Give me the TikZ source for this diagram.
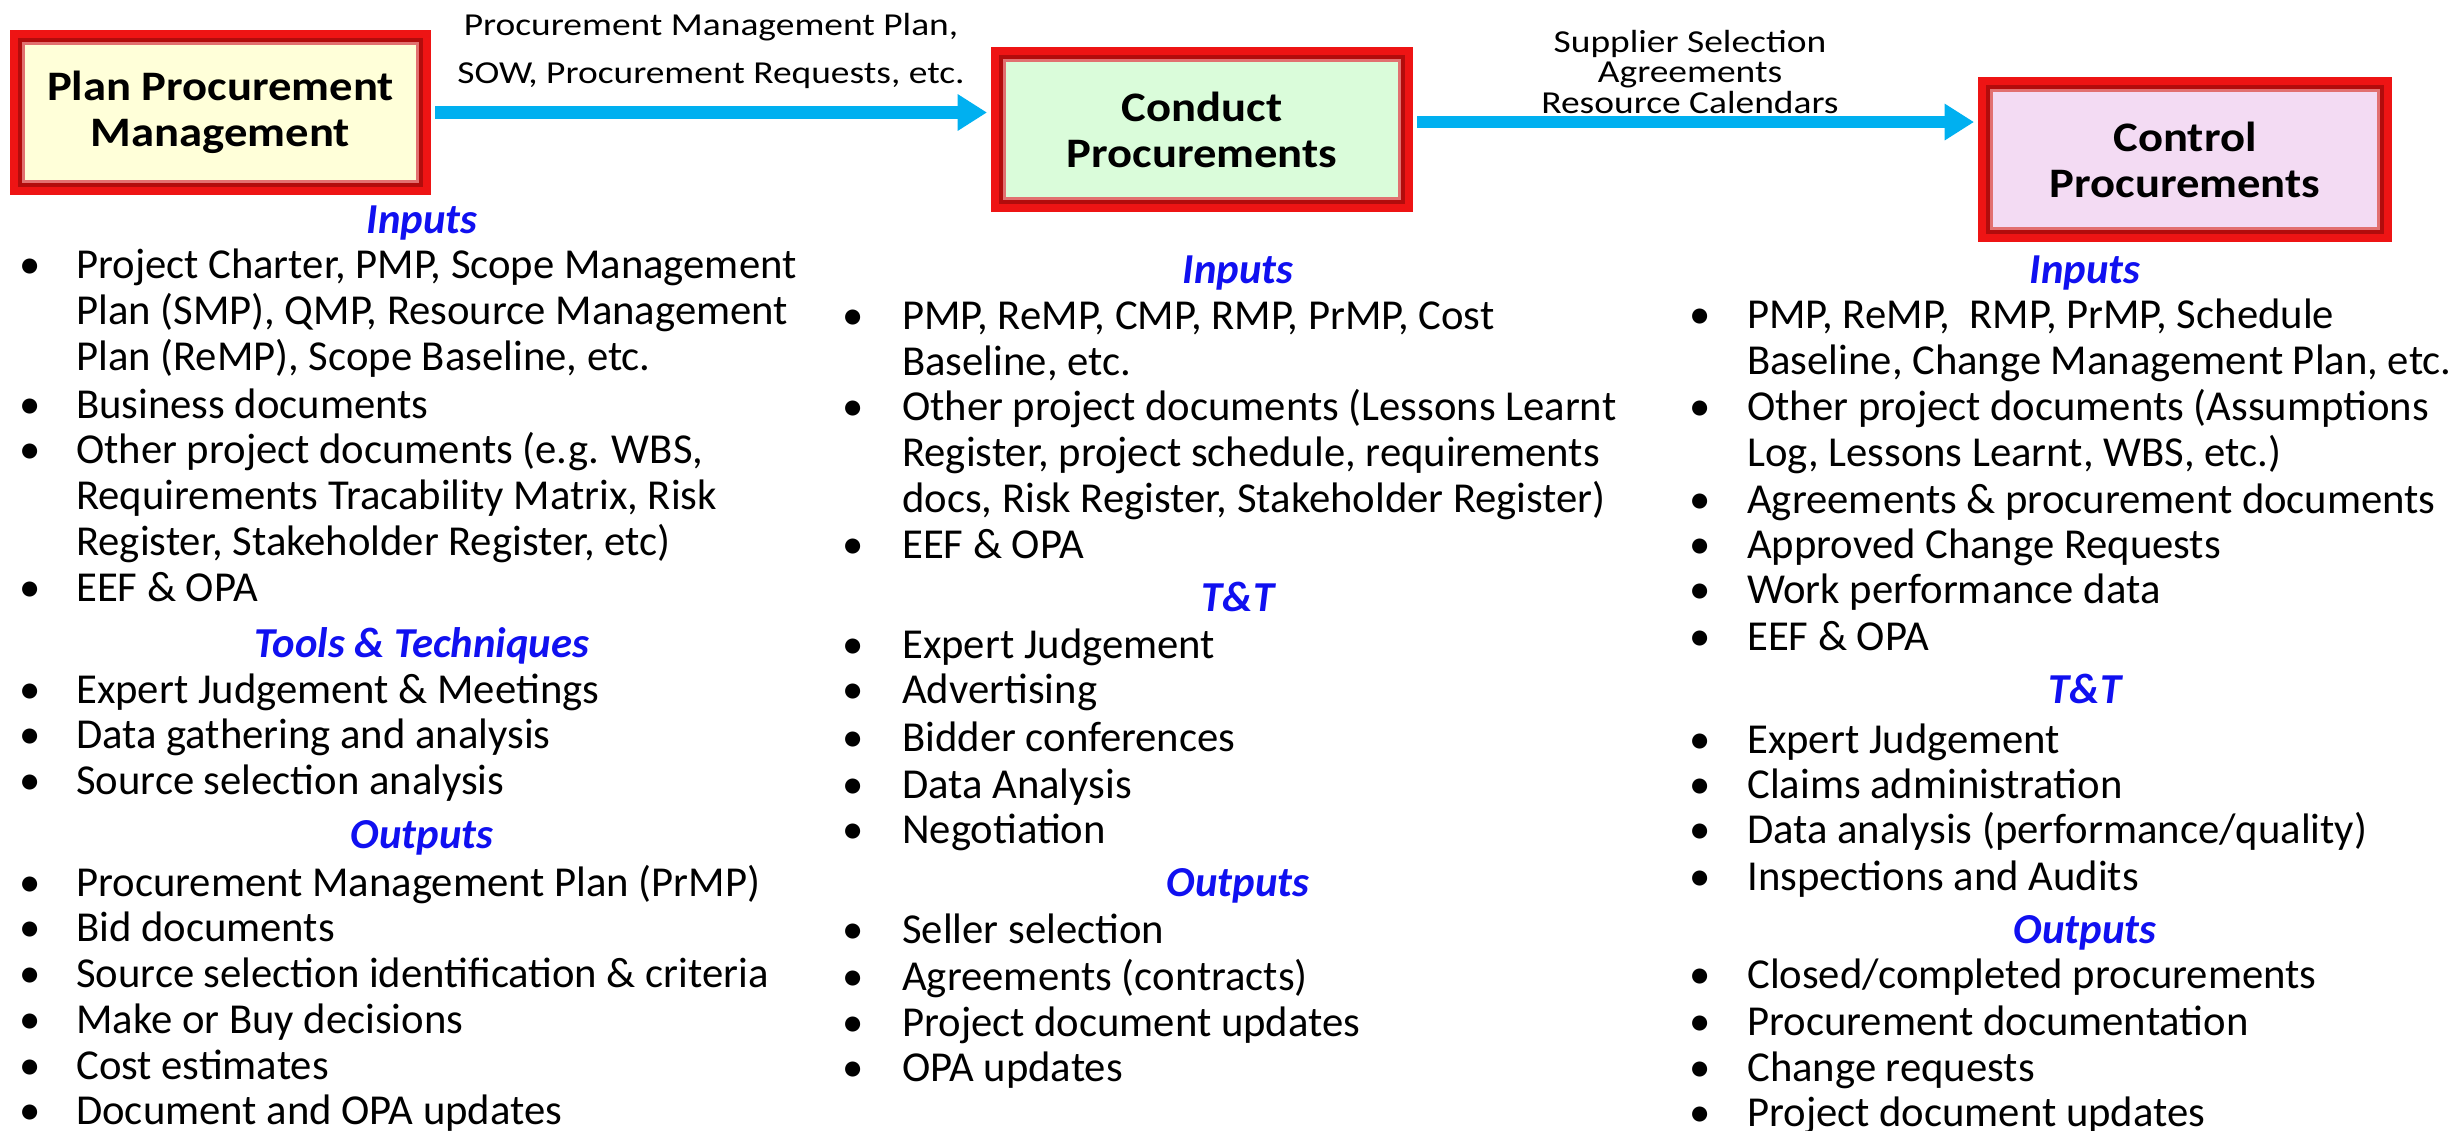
\documentclass[tikz,border=0pt]{standalone}
\usepackage{fontspec}
\setmainfont{Carlito}
\newfontfamily\labelfont[FakeStretch=1.17]{Carlito}
\newfontfamily\boxfont[FakeStretch=1.11]{Carlito}
\usepackage{tikz}
\usetikzlibrary{arrows.meta}

\definecolor{boxred}{RGB}{238,20,20}
\definecolor{boxdark}{RGB}{178,12,12}
\definecolor{boxband}{RGB}{226,112,112}
\definecolor{planfill}{RGB}{255,255,217}
\definecolor{condfill}{RGB}{218,252,218}
\definecolor{ctrlfill}{RGB}{243,219,243}
\definecolor{flowblue}{RGB}{0,176,240}
\definecolor{headblue}{RGB}{16,16,240}

\newcommand{\tightlines}{\lineskiplimit=-30pt\relax}

\begin{document}
\begin{tikzpicture}[x=0.75pt,y=0.75pt,yscale=-1,xscale=1,
  item/.style={anchor=north west, inner sep=0pt, align=left, font=\fontsize{32}{34.5}\selectfont, execute at begin node=\strut},
  dot/.style={anchor=north, inner sep=0pt, font=\fontsize{32}{34.5}\selectfont, execute at begin node=\strut},
  head/.style={anchor=base, inner sep=0pt, text=headblue, font=\fontsize{32}{34.5}\selectfont\bfseries\itshape},
  flowlabel/.style={anchor=north, inner sep=0pt, align=center},
  procbox/.style={draw=boxred, line width=6pt, minimum height=117.75pt, inner sep=0pt, align=center,
    font=\boxfont\bfseries\fontsize{31.5}{34.5}\selectfont,
    path picture={
      \draw[boxband, line width=16.5pt] (path picture bounding box.south west) rectangle (path picture bounding box.north east);
      \draw[boxdark, line width=12pt] (path picture bounding box.south west) rectangle (path picture bounding box.north east);
    }},
  flow/.style={draw=flowblue, line width=9pt, shorten <=3pt, shorten >=3pt, -{Triangle[width=26pt,length=22pt]}}
]
\useasboundingbox (0,0) rectangle (2463,1131);

%Process boxes
\node [procbox, fill=planfill, minimum width=309.75pt] (plan) at (220.5,112.5) {Plan Procurement\\Management};
\node [procbox, fill=condfill, minimum width=310.5pt] (conduct) at (1202,129.5) {Conduct\\Procurements};
\node [procbox, fill=ctrlfill, minimum width=304.5pt] (control) at (2185,159.5) {Control\\Procurements};

%Flow arrows
\draw [flow] (plan.east) -- (plan.east -| conduct.west);
\coordinate (cflow) at ([yshift=-5.6pt]conduct.east);
\draw [flow] (cflow) -- (cflow -| control.west);

% Text Node
\draw (711,1.4) node [flowlabel][font=\labelfont\fontsize{24}{36}\selectfont] (lab1) {\strut Procurement Management Plan,\\SOW, Procurement Requests, etc.};
% Text Node
\draw (1690,29.6) node [flowlabel][font=\labelfont\fontsize{24}{22.9}\selectfont\tightlines] (lab2) {Supplier Selection\\Agreements\\Resource Calendars};

%Plan Procurement Management column
\draw (422,233) node [head] (pin) {Inputs};
\draw (30,246) node [dot] (pb1) {\textbullet};
\draw (76,246) node [item] (pt1) {\strut Project Charter, PMP, Scope Management\\Plan (SMP), QMP, Resource Management\\Plan (ReMP), Scope Baseline, etc.};
\draw (30,386) node [dot] (pb2) {\textbullet};
\draw (76,386) node [item] (pt2) {Business documents};
\draw (30,431) node [dot] (pb3) {\textbullet};
\draw (76,431) node [item] (pt3) {\strut Other project documents (e.g. WBS,\\Requirements Tracability Matrix, Risk\\Register, Stakeholder Register, etc)};
\draw (30,569) node [dot] (pb4) {\textbullet};
\draw (76,569) node [item] (pt4) {EEF \& OPA};
\draw (422,657) node [head] (ptt) {Tools \& Techniques};
\draw (30,671) node [dot] (pb5) {\textbullet};
\draw (76,671) node [item] (pt5) {Expert Judgement \& Meetings};
\draw (30,716.5) node [dot] (pb6) {\textbullet};
\draw (76,716.5) node [item] (pt6) {Data gathering and analysis};
\draw (30,762) node [dot] (pb7) {\textbullet};
\draw (76,762) node [item] (pt7) {Source selection analysis};
\draw (422,848) node [head] (pout) {Outputs};
\draw (30,864) node [dot] (pb8) {\textbullet};
\draw (76,864) node [item] (pt8) {Procurement Management Plan (PrMP)};
\draw (30,909.5) node [dot] (pb9) {\textbullet};
\draw (76,909.5) node [item] (pt9) {Bid documents};
\draw (30,955) node [dot] (pb10) {\textbullet};
\draw (76,955) node [item] (pt10) {Source selection identification \& criteria};
\draw (30,1001) node [dot] (pb11) {\textbullet};
\draw (76,1001) node [item] (pt11) {Make or Buy decisions};
\draw (30,1047) node [dot] (pb12) {\textbullet};
\draw (76,1047) node [item] (pt12) {Cost estimates};
\draw (30,1092) node [dot] (pb13) {\textbullet};
\draw (76,1092) node [item] (pt13) {Document and OPA updates};

%Conduct Procurements column
\draw (1238,283) node [head] (cin) {Inputs};
\draw (853,297) node [dot] (cb1) {\textbullet};
\draw (902,297) node [item] (ct1) {\strut PMP, ReMP, CMP, RMP, PrMP, Cost\\Baseline, etc.};
\draw (853,388) node [dot] (cb2) {\textbullet};
\draw (902,388) node [item] (ct2) {\strut Other project documents (Lessons Learnt\\Register, project schedule, requirements\\docs, Risk Register, Stakeholder Register)};
\draw (853,526) node [dot] (cb3) {\textbullet};
\draw (902,526) node [item] (ct3) {EEF \& OPA};
\draw (1238,611) node [head] (ctt) {T\&T};
\draw (853,626) node [dot] (cb4) {\textbullet};
\draw (902,626) node [item] (ct4) {Expert Judgement};
\draw (853,671) node [dot] (cb5) {\textbullet};
\draw (902,671) node [item] (ct5) {Advertising};
\draw (853,719) node [dot] (cb6) {\textbullet};
\draw (902,719) node [item] (ct6) {Bidder conferences};
\draw (853,766) node [dot] (cb7) {\textbullet};
\draw (902,766) node [item] (ct7) {Data Analysis};
\draw (853,811) node [dot] (cb8) {\textbullet};
\draw (902,811) node [item] (ct8) {Negotiation};
\draw (1238,896) node [head] (cout) {Outputs};
\draw (853,911) node [dot] (cb9) {\textbullet};
\draw (902,911) node [item] (ct9) {Seller selection};
\draw (853,958) node [dot] (cb10) {\textbullet};
\draw (902,958) node [item] (ct10) {Agreements (contracts)};
\draw (853,1004) node [dot] (cb11) {\textbullet};
\draw (902,1004) node [item] (ct11) {Project document updates};
\draw (853,1049) node [dot] (cb12) {\textbullet};
\draw (902,1049) node [item] (ct12) {OPA updates};

%Control Procurements column
\draw (2085,283) node [head] (kin) {Inputs};
\draw (1700,296) node [dot] (kb1) {\textbullet};
\draw (1747,296) node [item] (kt1) {\strut PMP, ReMP,\ \ RMP, PrMP, Schedule\\Baseline, Change Management Plan, etc.};
\draw (1700,388) node [dot] (kb2) {\textbullet};
\draw (1747,388) node [item] (kt2) {\strut Other project documents (Assumptions\\Log, Lessons Learnt, WBS, etc.)};
\draw (1700,481) node [dot] (kb3) {\textbullet};
\draw (1747,481) node [item] (kt3) {Agreements \& procurement documents};
\draw (1700,526) node [dot] (kb4) {\textbullet};
\draw (1747,526) node [item] (kt4) {Approved Change Requests};
\draw (1700,571) node [dot] (kb5) {\textbullet};
\draw (1747,571) node [item] (kt5) {Work performance data};
\draw (1700,618) node [dot] (kb6) {\textbullet};
\draw (1747,618) node [item] (kt6) {EEF \& OPA};
\draw (2085,703) node [head] (ktt) {T\&T};
\draw (1700,721) node [dot] (kb7) {\textbullet};
\draw (1747,721) node [item] (kt7) {Expert Judgement};
\draw (1700,766) node [dot] (kb8) {\textbullet};
\draw (1747,766) node [item] (kt8) {Claims administration};
\draw (1700,811) node [dot] (kb9) {\textbullet};
\draw (1747,811) node [item] (kt9) {Data analysis (performance/quality)};
\draw (1700,858) node [dot] (kb10) {\textbullet};
\draw (1747,858) node [item] (kt10) {Inspections and Audits};
\draw (2085,943) node [head] (kout) {Outputs};
\draw (1700,956) node [dot] (kb11) {\textbullet};
\draw (1747,956) node [item] (kt11) {Closed/completed procurements};
\draw (1700,1003) node [dot] (kb12) {\textbullet};
\draw (1747,1003) node [item] (kt12) {Procurement documentation};
\draw (1700,1049) node [dot] (kb13) {\textbullet};
\draw (1747,1049) node [item] (kt13) {Change requests};
\draw (1700,1094) node [dot] (kb14) {\textbullet};
\draw (1747,1094) node [item] (kt14) {Project document updates};

\end{tikzpicture}
\end{document}
